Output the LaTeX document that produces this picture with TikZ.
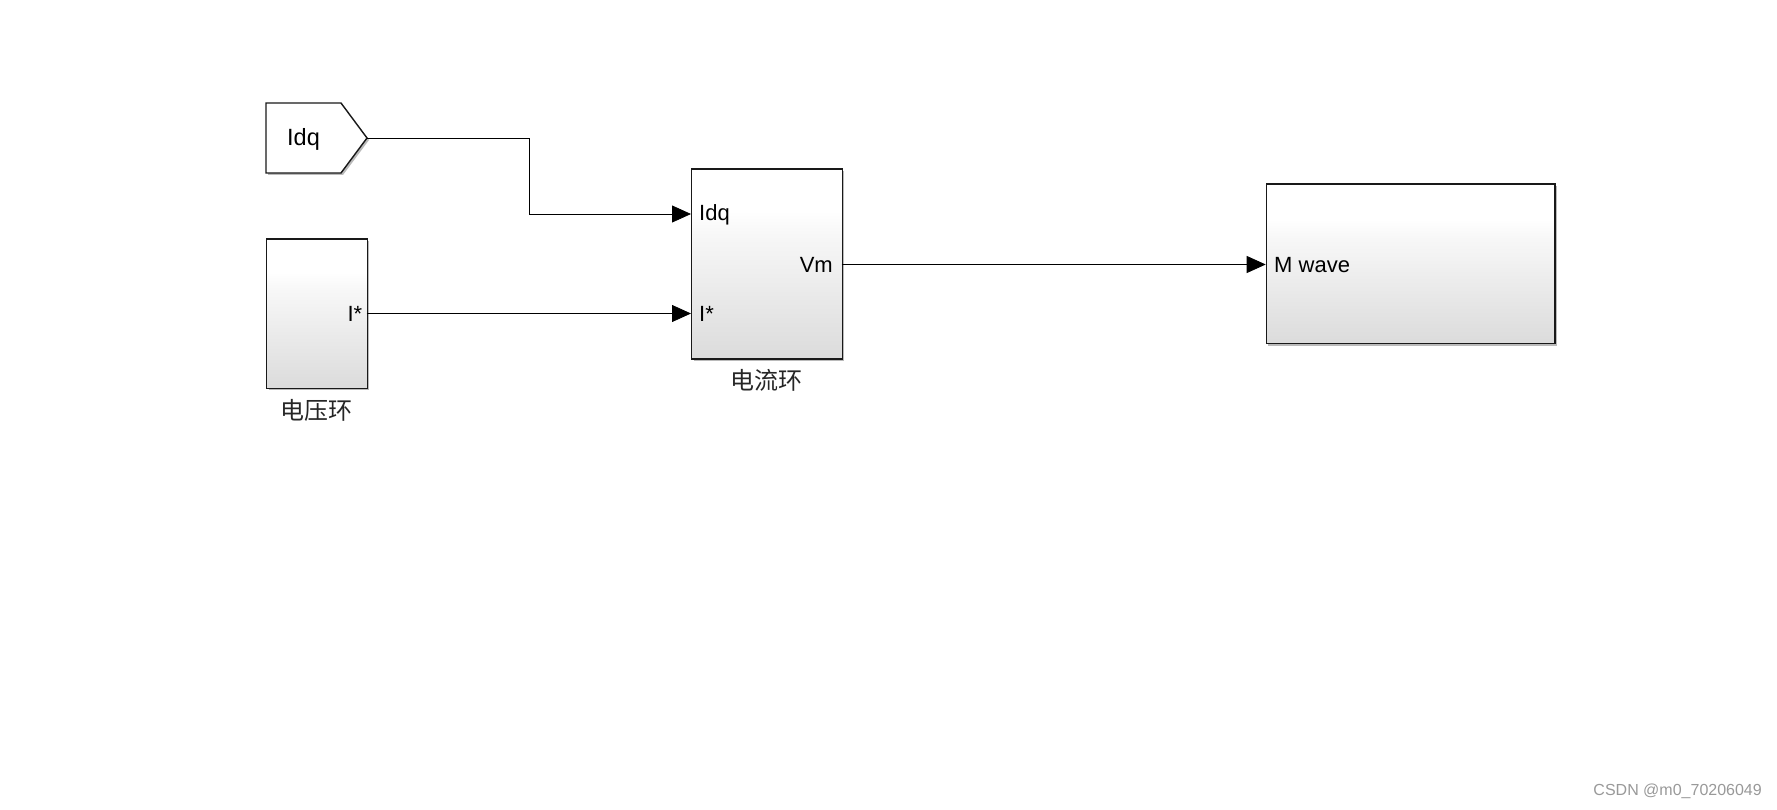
\documentclass[tikz,border=0pt]{standalone}
\usepackage{fontspec}
\setmainfont{Liberation Sans}
\newfontfamily\cjk{Noto Sans CJK SC}
\usetikzlibrary{arrows.meta,shadows}
\pgfdeclareverticalshading{simblk}{100bp}{color(0bp)=(black!14); color(25bp)=(black!14); color(58bp)=(white!97!black); color(64bp)=(white); color(100bp)=(white)}
\tikzset{
  blk/.style={draw=black!90, line width=1.4pt, shading=simblk,
    drop shadow={shadow xshift=2pt, shadow yshift=-2pt, opacity=0.45, fill=black!60},
    anchor=north west, inner sep=0pt},
  port/.style={font=\fontsize{22}{25}\selectfont, inner sep=0pt},
  blkcaption/.style={font=\cjk\fontsize{24}{28}\selectfont, inner sep=0pt, text=black!85},
  wire/.style={line width=0.8pt, -{Triangle[length=19pt,width=17pt]}},
  plain/.style={line width=0.8pt}
}
\begin{document}
\begin{tikzpicture}[x=1pt,y=-1pt]
\useasboundingbox[fill=white] (0,0) rectangle (1777,810);
% goto Idq
\draw[line width=1.4pt, draw=black!90, fill=white, drop shadow={shadow xshift=2pt, shadow yshift=-2pt, opacity=0.45, fill=black!60}]
  (266,103) -- (341,103) -- (367,138) -- (341,173) -- (266,173) -- cycle;
\node[port, font=\fontsize{23.5}{26}\selectfont, anchor=west] (idq) at (287,139) {Idq};
\coordinate (idqtip) at (367,138);
% voltage loop
\node[blk, minimum width=100.5pt, minimum height=149pt] (vl) at (266,238.5) {};
\node[port, anchor=east] (vlI) at (362.5,313.5) {I*};
\node[blkcaption] (vlcap) at (316,410) {电压环};
\coordinate (vlout) at (366.7,313.5);
% current loop
\node[blk, minimum width=150.5pt, minimum height=190pt] (cl) at (691,168.3) {};
\node[port, anchor=west] (clIdq) at (699,214.5) {Idq};
\node[port, anchor=west] (clI) at (699,313.5) {I*};
\node[port, anchor=east] (clVm) at (833,264.5) {Vm};
\node[blkcaption] (clcap) at (766.5,380) {电流环};
\coordinate (clin1) at (691,214);
\coordinate (clin2) at (691,313.5);
\coordinate (clout) at (841.7,264.5);
% M wave block
\node[blk, minimum width=288.5pt, minimum height=159.5pt] (mw) at (1265.7,183.3) {};
\node[port, anchor=west] (mwl) at (1274,265) {M wave};
\coordinate (mwin) at (1265.7,264.5);
% wires
\draw[wire] (idqtip) -- (529.5,138) |- (clin1);
\draw[wire] (vlout) -- (clin2);
\draw[wire] (clout) -- (mwin);
% watermark
\node[font=\fontsize{16}{18}\selectfont, text=black!40, anchor=east, inner sep=0pt] (wm) at (1762,791.5) {CSDN @m0\_70206049};
\end{tikzpicture}
\end{document}
